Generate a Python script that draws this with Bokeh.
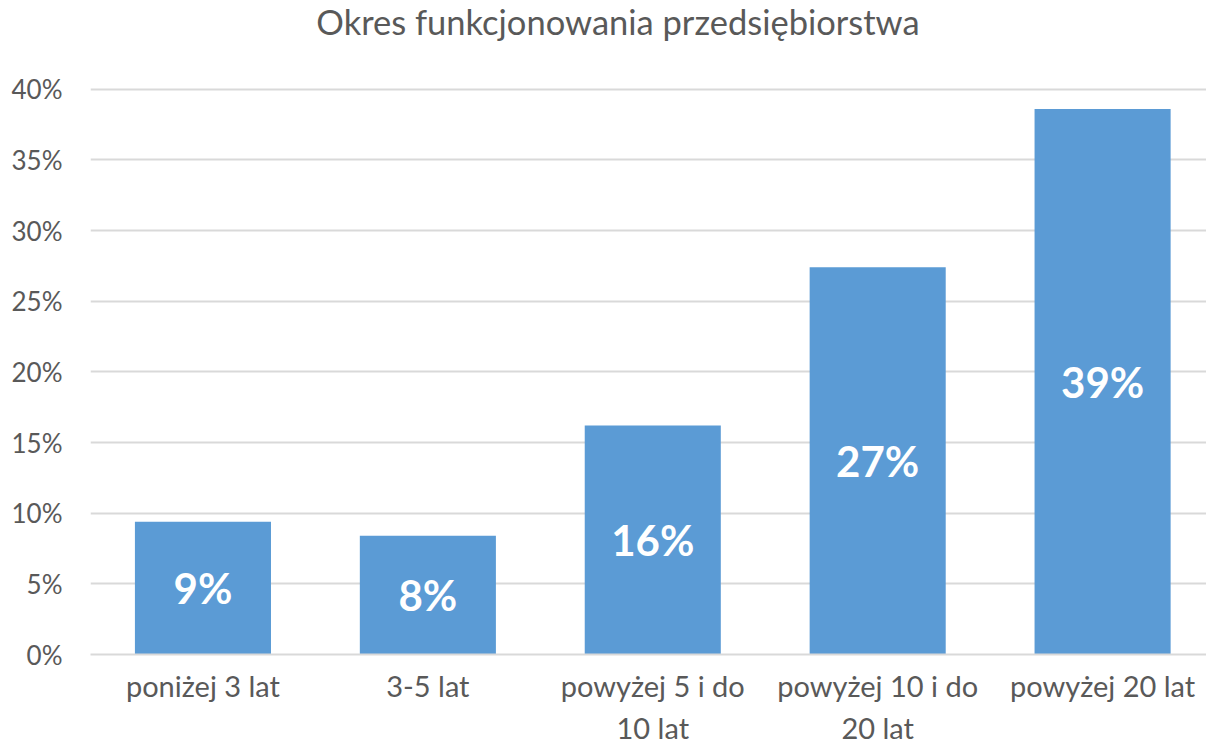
from bokeh.plotting import figure
from bokeh.models import Range1d, FixedTicker, NumeralTickFormatter, ColumnDataSource, Div
from bokeh.layouts import column
from bokeh.core.properties import value
from bokeh.embed import file_html
from bokeh.resources import INLINE

categories = ["poniżej 3 lat", "3-5 lat", "powyżej 5 i do\n10 lat", "powyżej 10 i do\n20 lat", "powyżej 20 lat"]
shares = [0.094, 0.084, 0.162, 0.274, 0.386]
data_labels = ["9%", "8%", "16%", "27%", "39%"]
y_ticks = [0, 0.05, 0.10, 0.15, 0.20, 0.25, 0.30, 0.35, 0.40]
title_text = "Okres funkcjonowania przedsiębiorstwa"

FONT = "Lato"
TEXT = "#595959"
GRID = "#D9D9D9"
BAR = "#5B9BD5"

pos = list(range(len(categories)))
src = ColumnDataSource(dict(x=pos, top=shares, mid=[s / 2 for s in shares], lab=data_labels))

title_div = Div(
    text=(f'<div style="width:1176px;margin:1px 0 0 30px;text-align:center;'
          f'font-family:{FONT};font-size:34.5px;line-height:1.2;color:{TEXT};'
          f'white-space:nowrap;">{title_text}</div>'),
    width=1206, height=67, margin=0)

p = figure(width=1206, height=680, output_backend="svg", toolbar_location=None,
           x_range=Range1d(-0.5, 4.462), y_range=Range1d(0, 0.4012),
           min_border_left=90, min_border_right=0, min_border_top=20, min_border_bottom=92)
p.outline_line_color = None
p.background_fill_color = "white"
p.border_fill_color = "white"

p.vbar(x="x", top="top", width=0.605, source=src, color=BAR, line_color=None)
p.text(x="x", y="mid", text="lab", source=src, text_align="center", text_baseline="middle",
       text_font=value(FONT), text_font_style="bold", text_font_size="42px", text_color="white")

p.xaxis.ticker = FixedTicker(ticks=pos)
p.xaxis.major_label_overrides = {i: c for i, c in zip(pos, categories)}
p.xaxis.axis_line_color = GRID
p.xaxis.axis_line_width = 2
p.xaxis.major_tick_line_color = None
p.xaxis.minor_tick_line_color = None
p.xaxis.major_label_text_font = FONT
p.xaxis.major_label_text_font_size = "29px"
p.xaxis.major_label_text_color = TEXT
p.xaxis.major_label_standoff = 7
p.xgrid.grid_line_color = None

p.yaxis.ticker = FixedTicker(ticks=y_ticks)
p.yaxis.formatter = NumeralTickFormatter(format="0%")
p.yaxis.axis_line_color = None
p.yaxis.major_tick_line_color = None
p.yaxis.minor_tick_line_color = None
p.yaxis.major_label_text_font = FONT
p.yaxis.major_label_text_font_size = "26px"
p.yaxis.major_label_text_color = TEXT
p.yaxis.major_label_standoff = 22
p.ygrid.grid_line_color = GRID
p.ygrid.grid_line_width = 2

layout = column(title_div, p, spacing=0)
open("out.html", "w").write(file_html(layout, INLINE))
